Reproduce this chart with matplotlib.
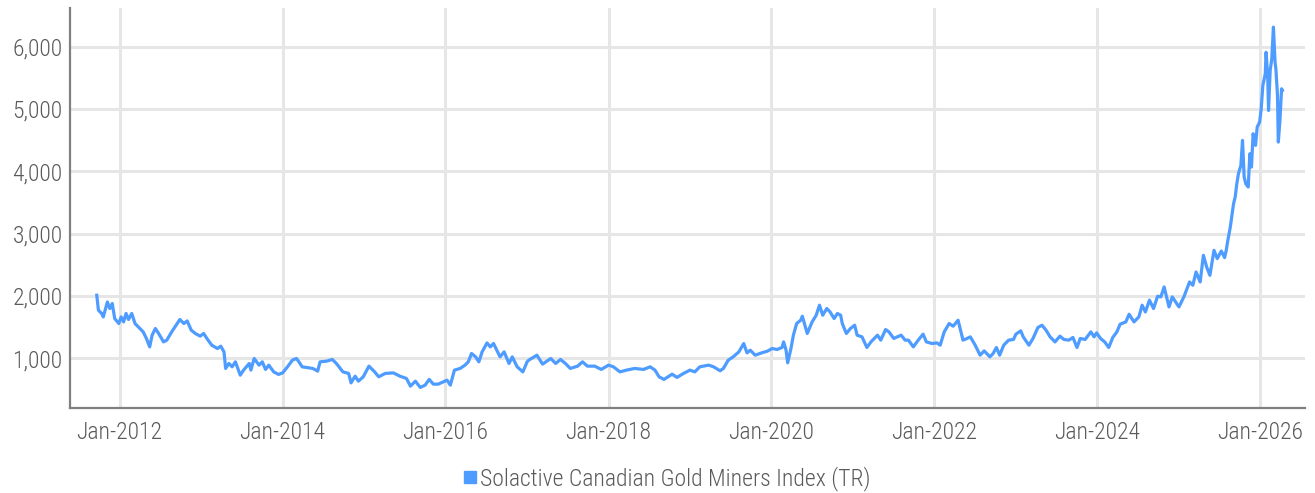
import datetime as dt

import matplotlib
matplotlib.use("Agg")
import matplotlib.dates as mdates
import matplotlib.pyplot as plt
from matplotlib import font_manager
from matplotlib.lines import Line2D
from matplotlib.ticker import FuncFormatter, MultipleLocator

# decimal years and index levels
years = [
    2011.72, 2011.74, 2011.78, 2011.80, 2011.85, 2011.88, 2011.91, 2011.94, 2011.99,
    2012.02, 2012.05, 2012.08, 2012.11, 2012.15, 2012.19, 2012.23, 2012.29, 2012.33,
    2012.37, 2012.40, 2012.44, 2012.48, 2012.54, 2012.58, 2012.64, 2012.68, 2012.74,
    2012.79, 2012.83, 2012.88, 2012.93, 2012.99,
    2013.03, 2013.07, 2013.13, 2013.20, 2013.24, 2013.28, 2013.30, 2013.34, 2013.38,
    2013.42, 2013.48, 2013.52, 2013.59, 2013.61, 2013.65, 2013.71, 2013.75, 2013.79,
    2013.83, 2013.89, 2013.95,
    2014.00, 2014.06, 2014.12, 2014.17, 2014.20, 2014.24, 2014.37, 2014.43, 2014.46,
    2014.54, 2014.61, 2014.66, 2014.74, 2014.81, 2014.84, 2014.89, 2014.93, 2014.99,
    2015.06, 2015.13, 2015.18, 2015.26, 2015.36, 2015.44, 2015.52, 2015.57, 2015.63,
    2015.69, 2015.75, 2015.80, 2015.85, 2015.91,
    2016.02, 2016.06, 2016.11, 2016.18, 2016.24, 2016.28, 2016.32, 2016.37, 2016.41,
    2016.45, 2016.51, 2016.55, 2016.59, 2016.63, 2016.67, 2016.72, 2016.78, 2016.82,
    2016.88, 2016.95,
    2017.00, 2017.02, 2017.12, 2017.19, 2017.29, 2017.35, 2017.41, 2017.47, 2017.53,
    2017.62, 2017.68, 2017.74, 2017.83, 2017.91,
    2018.00, 2018.06, 2018.14, 2018.22, 2018.32, 2018.43, 2018.51, 2018.57, 2018.62,
    2018.68, 2018.78, 2018.84, 2018.92,
    2019.00, 2019.06, 2019.12, 2019.23, 2019.29, 2019.37, 2019.41, 2019.47, 2019.53,
    2019.60, 2019.66, 2019.70, 2019.74, 2019.80, 2019.88, 2019.95,
    2020.01, 2020.07, 2020.13, 2020.15, 2020.18, 2020.20, 2020.24, 2020.27, 2020.31,
    2020.36, 2020.38, 2020.44, 2020.50, 2020.55, 2020.59, 2020.63, 2020.68, 2020.72,
    2020.77, 2020.81, 2020.85, 2020.87, 2020.92, 2020.97,
    2021.02, 2021.05, 2021.11, 2021.17, 2021.22, 2021.30, 2021.34, 2021.40, 2021.44,
    2021.50, 2021.59, 2021.64, 2021.68, 2021.74, 2021.80, 2021.86, 2021.90, 2021.97,
    2022.03, 2022.07, 2022.12, 2022.18, 2022.23, 2022.29, 2022.35, 2022.40, 2022.44,
    2022.50, 2022.56, 2022.61, 2022.68, 2022.72, 2022.76, 2022.80, 2022.85, 2022.91,
    2022.97,
    2023.00, 2023.06, 2023.09, 2023.16, 2023.21, 2023.27, 2023.32, 2023.37, 2023.42,
    2023.48, 2023.54, 2023.59, 2023.65, 2023.70, 2023.75, 2023.79, 2023.85, 2023.92,
    2023.96, 2023.99,
    2024.04, 2024.09, 2024.14, 2024.19, 2024.24, 2024.28, 2024.35, 2024.39, 2024.45,
    2024.51, 2024.55, 2024.59, 2024.64, 2024.69, 2024.74, 2024.78, 2024.82, 2024.88,
    2024.92,
    2025.00, 2025.06, 2025.13, 2025.17, 2025.21, 2025.26, 2025.30, 2025.34, 2025.38,
    2025.43, 2025.47, 2025.52, 2025.56, 2025.58, 2025.60, 2025.63, 2025.67, 2025.69,
    2025.71, 2025.73, 2025.76, 2025.78, 2025.80, 2025.82, 2025.85, 2025.87, 2025.89,
    2025.91, 2025.94, 2025.96, 2025.99,
    2026.01, 2026.03, 2026.06, 2026.07, 2026.09, 2026.10, 2026.12, 2026.14, 2026.16,
    2026.18, 2026.19, 2026.21, 2026.22, 2026.24, 2026.26, 2026.27,
]

index_tr = [
    2010, 1770, 1717, 1662, 1902, 1797, 1877, 1636, 1556,
    1662, 1582, 1717, 1620, 1717, 1556, 1502, 1422, 1316,
    1181, 1369, 1476, 1396, 1261, 1289, 1422, 1502, 1620,
    1556, 1598, 1449, 1396, 1353,
    1396, 1316, 1208, 1155, 1192, 1101, 835, 915, 861,
    941, 727, 808, 915, 808, 995, 888, 941, 819,
    888, 780, 739,
    764, 861, 968, 995, 941, 861, 835, 792, 941,
    952, 979, 915, 780, 755, 604, 711, 631, 701,
    872, 780, 701, 755, 764, 711, 675, 551, 631,
    530, 567, 659, 583, 583,
    647, 567, 808, 835, 888, 941, 1075, 1021, 941,
    1101, 1245, 1181, 1235, 1128, 1021, 1101, 915, 1021,
    861, 780,
    941, 968, 1048, 904, 995, 915, 979, 915, 835,
    872, 941, 872, 872, 819,
    888, 861, 780, 808, 835, 819, 861, 808, 701,
    659, 743, 691, 755,
    808, 780, 861, 888, 861, 797, 835, 968, 1021,
    1101, 1235, 1085, 1128, 1048, 1085, 1112,
    1155, 1139, 1171, 1261, 1128, 925, 1155, 1369, 1556,
    1609, 1673, 1396, 1582, 1689, 1850, 1689, 1797, 1742,
    1636, 1717, 1689, 1556, 1396, 1476,
    1529, 1369, 1342, 1171, 1261, 1369, 1289, 1460, 1422,
    1316, 1369, 1289, 1289, 1181, 1289, 1385, 1261, 1235,
    1245, 1208, 1422, 1556, 1513, 1609, 1289, 1316, 1342,
    1208, 1048, 1117, 1021, 1075, 1171, 1048, 1208, 1289,
    1300,
    1385, 1438, 1342, 1208, 1316, 1492, 1529, 1449, 1342,
    1261, 1353, 1300, 1289, 1332, 1171, 1316, 1300, 1422,
    1342, 1406,
    1316, 1261, 1171, 1332, 1422, 1545, 1582, 1705, 1582,
    1662, 1850, 1742, 1930, 1797, 1994, 1983, 2143, 1822,
    1983,
    1822, 1983, 2223, 2170, 2383, 2223, 2651, 2463, 2330,
    2731, 2598, 2720, 2614, 2731, 2892, 3104, 3479, 3586,
    3800, 3961, 4094, 4495, 3907, 3800, 3747, 4281, 4067,
    4602, 4415, 4709, 4789,
    5003, 5377, 5564, 5909, 5508, 4976, 5617, 5804, 6313,
    5751, 5645, 5217, 4468, 4815, 5323, 5297,
]

SERIES_NAME = "Solactive Canadian Gold Miners Index (TR)"
LINE_COLOR = "#4e9cff"
TEXT_COLOR = "#5a5a5a"
GRID_COLOR = "#e6e6e6"
SPINE_COLOR = "#808080"


def to_date(y):
    base = int(y)
    return dt.datetime(base, 1, 1) + dt.timedelta(days=(y - base) * 365.25)


def pick_font():
    installed = {f.name for f in font_manager.fontManager.ttflist}
    for name in ["Liberation Sans Narrow", "Roboto Condensed", "Roboto"]:
        if name in installed:
            return name
    return "DejaVu Sans"


def main():
    font = pick_font()
    narrow = font not in ("Roboto", "DejaVu Sans")
    tick_size = 17 if narrow else 14.5
    plt.rcParams["font.family"] = [font, "DejaVu Sans"]
    plt.rcParams["font.weight"] = "light"

    dates = [to_date(y) for y in years]

    fig = plt.figure(figsize=(13.15, 4.93), dpi=100)
    ax = fig.add_axes([0.0529, 0.1724, 0.9395, 0.8114])

    ax.plot(dates, index_tr, color=LINE_COLOR, linewidth=2.3, solid_joinstyle="round")

    ax.set_xlim(dt.datetime(2011, 5, 22), dt.datetime(2026, 7, 20))
    ax.set_ylim(200, 6620)

    ax.xaxis.set_major_locator(mdates.YearLocator(base=2, month=1, day=1))
    ax.xaxis.set_major_formatter(mdates.DateFormatter("%b-%Y"))
    ax.yaxis.set_major_locator(MultipleLocator(1000))
    ax.yaxis.set_major_formatter(FuncFormatter(lambda v, _: f"{v:,.0f}"))

    ax.grid(True, color=GRID_COLOR, linewidth=2.2)
    ax.set_axisbelow(True)
    for side in ("top", "right"):
        ax.spines[side].set_visible(False)
    for side in ("left", "bottom"):
        ax.spines[side].set_color(SPINE_COLOR)
        ax.spines[side].set_linewidth(1.6)

    ax.tick_params(axis="both", length=0, colors=TEXT_COLOR, labelsize=tick_size)
    ax.tick_params(axis="x", pad=9)
    ax.tick_params(axis="y", pad=5)

    handle = Line2D([], [], marker="s", linestyle="none", color=LINE_COLOR, markersize=8.5)
    fig.legend([handle], [SERIES_NAME], loc="center", bbox_to_anchor=(0.506, 0.029),
               frameon=False, fontsize=tick_size, labelcolor=TEXT_COLOR,
               handletextpad=0.05, handlelength=0.8, borderpad=0)

    fig.savefig("out.png", dpi=100)


if __name__ == "__main__":
    main()
